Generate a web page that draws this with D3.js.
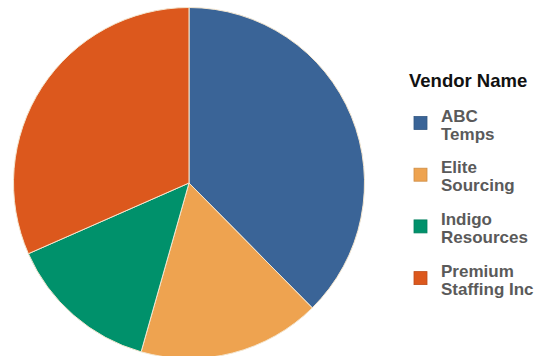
<!DOCTYPE html>
<html>
<head>
<meta charset="utf-8">
<script src="https://d3js.org/d3.v7.min.js"></script>
<style>
  html, body { margin: 0; padding: 0; background: #ffffff; }
  svg { display: block; }
</style>
</head>
<body>
<svg id="chart" width="540" height="356"></svg>
<script>
// Share of spend by vendor
const vendors = ["ABC Temps", "Elite Sourcing", "Indigo Resources", "Premium Staffing Inc"];
const legendLines = [["ABC", "Temps"], ["Elite", "Sourcing"], ["Indigo", "Resources"], ["Premium", "Staffing Inc"]];
const shares = [37.6, 16.8, 14.0, 31.6];
const colors = ["#3a6497", "#eea350", "#00916b", "#dc581d"];
const legendTitle = "Vendor Name";

const svg = d3.select("#chart");
const cx = 189, cy = 183, radius = 175.5;

const color = d3.scaleOrdinal().domain(vendors).range(colors);

const pie = d3.pie().sort(null).value(d => d.value);
const arc = d3.arc().innerRadius(0).outerRadius(radius);

const data = vendors.map((v, i) => ({ name: v, value: shares[i] }));

const g = svg.append("g").attr("transform", `translate(${cx},${cy})`);
g.selectAll("path.slice")
  .data(pie(data))
  .join("path")
  .attr("class", "slice")
  .attr("d", arc)
  .attr("fill", d => color(d.data.name))
  .attr("stroke", "#f4e6cf")
  .attr("stroke-width", 1);

// Legend
const lg = svg.append("g").attr("transform", "translate(409,0)");
lg.append("text")
  .attr("x", 0).attr("y", 87)
  .attr("font-family", "Liberation Sans, Arial, sans-serif")
  .attr("font-weight", "bold")
  .attr("font-size", 18.5)
  .attr("fill", "#111")
  .text(legendTitle);

const items = lg.selectAll("g.item")
  .data(vendors)
  .join("g")
  .attr("class", "item")
  .attr("transform", (d, i) => `translate(0,${123 + i * 51.7})`);

items.append("rect")
  .attr("x", 5).attr("y", -6.5)
  .attr("width", 13).attr("height", 13)
  .attr("fill", d => color(d))
  .attr("stroke", d => d3.color(color(d)).darker(0.4))
  .attr("stroke-width", 0.8);

items.append("text")
  .attr("x", 32)
  .attr("font-family", "Liberation Sans, Arial, sans-serif")
  .attr("font-weight", "bold")
  .attr("font-size", 17)
  .attr("fill", "#5a5a5a")
  .selectAll("tspan")
  .data((d, i) => legendLines[i])
  .join("tspan")
  .attr("x", 32)
  .attr("y", (d, j) => j === 0 ? -1.5 : 16.5)
  .text(d => d);
</script>
</body>
</html>
